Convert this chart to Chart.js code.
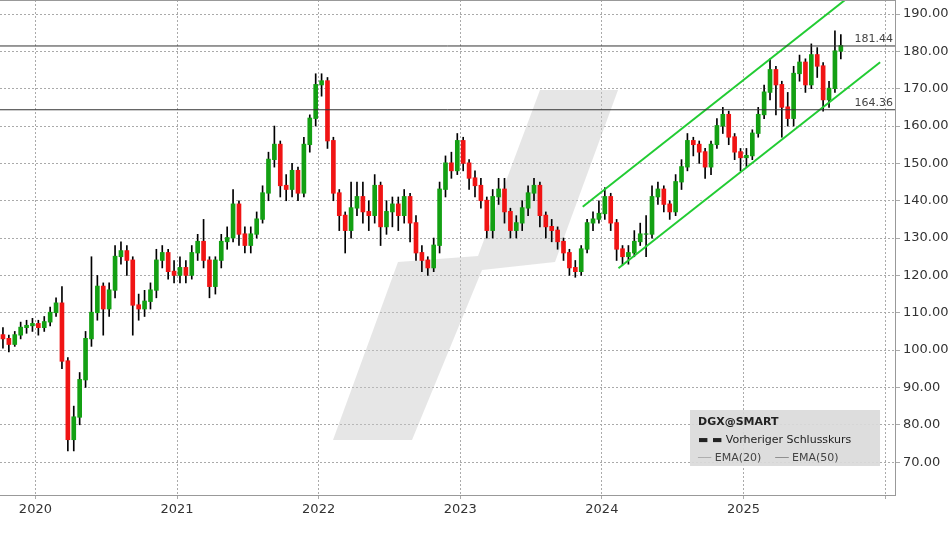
<!DOCTYPE html>
<html>
<head>
<meta charset="utf-8">
<script src="https://cdn.jsdelivr.net/npm/chart.js@4/dist/chart.umd.min.js"></script>
<style>
  body { margin: 0; background: #fff; }
  #wrap { position: relative; width: 948px; height: 534px; }
  #legend { position: absolute; left: 690px; top: 410px; width: 190px; height: 56px;
    background: rgba(218,218,218,0.92); font: 11px "DejaVu Sans", sans-serif; color: #222; }
  #legend div { position: absolute; left: 8px; white-space: nowrap; }
</style>
</head>
<body>
<div id="wrap">
  <canvas id="kurs" width="948" height="534"></canvas>
  <div id="legend">
    <div style="top:5px;font-weight:bold">DGX@SMART</div>
    <div style="top:23px">▬ ▬ Vorheriger Schlusskurs</div>
    <div style="top:41px;color:#444"><span style="color:#aaa">──</span> EMA(20) &nbsp;&nbsp;&nbsp;<span style="color:#888">──</span> EMA(50)</div>
  </div>
</div>
<script>
// Halbmonatliche Kerzen ab Okt 2019
const startJahr = 2019.75;
const schluss = [
  103, 101.5, 104, 106, 106.5, 107,
  106, 107.5, 110, 112.5, 97, 76, 82, 92, 103, 110, 117, 111, 116, 125, 126.5, 124, 112, 111, 113, 116, 124, 126, 121, 120,
  122, 120, 126, 129, 124, 117, 124, 129, 130, 139, 131, 128, 131, 135, 142, 151, 155, 144, 143, 148, 142, 155, 162, 171,
  172, 156, 142, 136, 132, 138, 141, 137, 136, 144, 133, 137, 139, 136, 141, 134, 126, 124, 122, 128, 143, 150, 148, 156,
  150, 146, 144, 140, 132, 141, 143, 137, 132, 134, 138, 142, 144, 136, 133, 132, 129, 126, 122, 121, 127, 134, 135, 136.5,
  141, 134, 127, 125, 126, 129, 131, 131, 141, 143, 139, 137, 145, 149, 156, 155, 153, 149, 155, 160, 163, 157, 153, 151.5,
  152, 158, 163, 169, 175, 171, 165, 162, 174, 177, 171, 179, 176, 167, 170, 180, 181.44
];
const hoch = [
  106, 104, 105, 107.5, 108, 108.5,
  108, 109, 111.5, 114, 117, 98, 85, 94, 105, 125, 120, 118, 118, 128, 129, 128, 125, 115, 116, 118, 127, 128, 127, 124,
  125, 124, 128, 131, 135, 125, 125, 131, 133, 143, 140, 133, 133, 137, 144, 153, 160, 156, 147, 150, 149, 157, 163, 174,
  174, 173, 157, 143, 137, 145, 145, 145, 140, 147, 145, 140, 141, 141, 143, 142, 136, 128, 125, 130, 145, 152, 153, 158,
  157, 151, 148, 146, 141, 143, 146, 146, 138, 136, 140, 144, 146, 145, 137, 135, 133, 130, 127, 124, 128, 135, 137, 140,
  143.5, 142, 135, 128, 128, 132, 134, 136, 144, 145, 144, 140, 147, 151, 158, 157, 156, 154, 156, 162, 165, 164, 158, 154,
  154, 159, 165, 171, 178, 176, 172, 169, 176, 179, 178, 182, 181, 177, 172, 185.5, 184.5
];
const tief = [
  100.5, 99.5, 101, 103, 104.5, 105,
  104, 105, 106.5, 109, 95, 73, 73, 80, 90, 101, 108, 104, 109, 114, 123, 120, 104, 108, 109, 111, 114, 122, 119, 118,
  118, 118, 119, 124, 122, 114, 115, 122, 127, 129, 128, 126, 126, 130, 134, 140, 149, 141, 140, 141, 140, 141, 153, 160,
  168, 154, 140, 132, 126, 130, 136, 134, 132, 134, 128, 131, 133, 132, 134, 129, 124, 121, 120, 121, 126, 141, 146, 147,
  148, 143, 141, 138, 130, 130, 139, 134, 130, 130, 132, 136, 140, 133, 130, 129, 127, 124, 120, 119.5, 120, 126, 132, 134,
  135, 132, 124, 122.8, 123, 125, 128, 125, 130, 139, 137, 135, 136, 143, 148, 152, 150, 146, 147, 154, 158, 155, 151, 148,
  149, 151, 157, 162, 167, 163, 157, 160, 160, 172, 169, 170, 173, 164, 165, 169, 178
];
const eroeffnung = [104].concat(schluss.slice(0, -1));

// Trendkanal und Marken
const kanalOben = [{ x: 2023.865, y: 138.4 }, { x: 2025.717, y: 193.75 }];
const kanalUnten = [{ x: 2024.117, y: 121.9 }, { x: 2025.965, y: 177.1 }];
const marken = [181.44, 164.36];
const jahre = [2020, 2021, 2022, 2023, 2024, 2025, 2026];

const xMin = 2019.75, xMax = 2026.07;
const zeit = schluss.map((c, i) => startJahr + i / 24 + 1 / 48);

const dochte = zeit.map((x, i) => ({ x: x, y: [tief[i], hoch[i]] }));
const koerper = zeit.map((x, i) => ({ x: x, y: [Math.min(eroeffnung[i], schluss[i]), Math.max(eroeffnung[i], schluss[i]) + 0.15] }));
const farben = schluss.map((c, i) => c >= eroeffnung[i] ? '#13a013' : '#f01414');

const linien = marken.map(m => ({
  type: 'line', data: [{ x: xMin, y: m }, { x: xMax, y: m }],
  borderColor: '#333', borderWidth: 1, pointRadius: 0, order: 0
}));

// Wasserzeichen und Rahmen
const hintergrund = {
  id: 'hintergrund',
  beforeDatasetsDraw(chart) {
    const c = chart.ctx;
    c.save();
    c.fillStyle = 'rgba(200,200,200,0.45)';
    c.beginPath();
    c.moveTo(333, 440); c.lineTo(412, 440); c.lineTo(482, 270); c.lineTo(555, 262);
    c.lineTo(618, 90); c.lineTo(540, 90); c.lineTo(478, 256); c.lineTo(398, 262);
    c.closePath(); c.fill();
    c.restore();
  },
  afterDraw(chart) {
    const c = chart.ctx, a = chart.chartArea, y = chart.scales.y;
    c.save();
    c.strokeStyle = '#999';
    c.lineWidth = 1;
    c.strokeRect(a.left - 0.5, a.top + 0.5, a.right - a.left + 1, a.bottom - a.top);
    c.fillStyle = '#444';
    c.font = '11px "DejaVu Sans", sans-serif';
    c.textAlign = 'right';
    marken.forEach(m => c.fillText(m.toFixed(2), a.right - 2, y.getPixelForValue(m) - 4));
    c.restore();
  }
};

new Chart(document.getElementById('kurs'), {
  data: {
    datasets: [
      { type: 'bar', data: dochte, backgroundColor: '#000', barThickness: 1, grouped: false, order: 3 },
      { type: 'bar', data: koerper, backgroundColor: farben, barThickness: 4, grouped: false, order: 2 },
      { type: 'line', data: kanalOben, borderColor: '#22cc33', borderWidth: 2, pointRadius: 0, order: 1 },
      { type: 'line', data: kanalUnten, borderColor: '#22cc33', borderWidth: 2, pointRadius: 0, order: 1 },
      ...linien
    ]
  },
  options: {
    animation: false,
    responsive: false,
    layout: { padding: { top: 0, left: 0, right: 0 } },
    plugins: { legend: { display: false }, tooltip: { enabled: false } },
    scales: {
      x: {
        type: 'linear', min: xMin, max: xMax, offset: false,
        afterBuildTicks: s => { s.ticks = jahre.map(v => ({ value: v })); },
        afterFit: s => { s.height = 39; s.paddingLeft = 0; s.paddingRight = 0; },
        ticks: { color: '#333', font: { size: 13, family: 'DejaVu Sans' }, maxRotation: 0,
          callback: v => v < 2026 ? String(v) : '' },
        grid: { color: '#aaa', tickLength: 4, offset: false },
        border: { display: false, dash: [2, 2] }
      },
      y: {
        position: 'right', min: 61.2, max: 193.75,
        afterBuildTicks: s => { s.ticks = [70, 80, 90, 100, 110, 120, 130, 140, 150, 160, 170, 180, 190].map(v => ({ value: v })); },
        afterFit: s => { s.width = 53; s.paddingTop = 0; s.paddingBottom = 0; },
        ticks: { color: '#333', font: { size: 13, family: 'DejaVu Sans' }, padding: 3,
          callback: v => v.toFixed(2) },
        grid: { color: '#aaa', tickLength: 5 },
        border: { display: false, dash: [2, 2] }
      }
    }
  },
  plugins: [hintergrund]
});
</script>
</body>
</html>
